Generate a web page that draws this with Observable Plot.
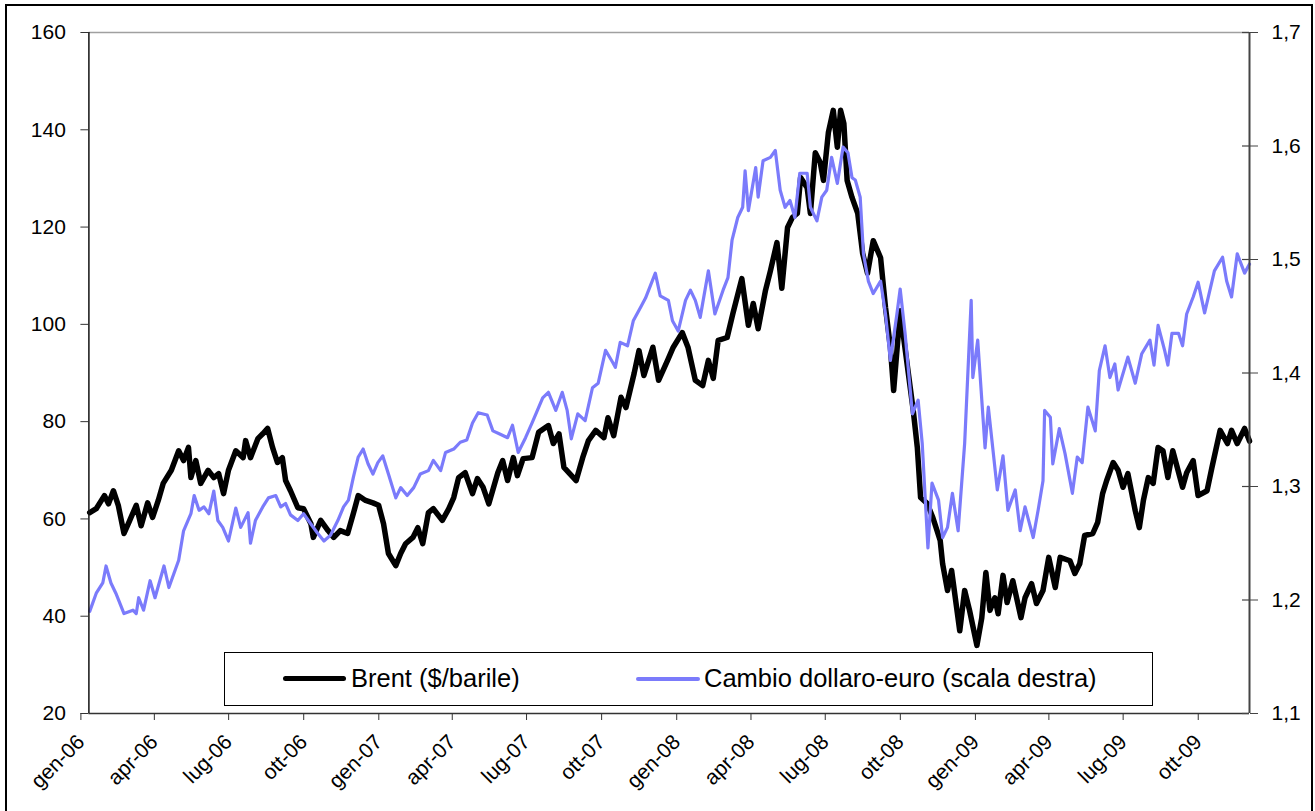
<!DOCTYPE html>
<html><head><meta charset="utf-8">
<script src="https://cdn.jsdelivr.net/npm/d3@7"></script>
<script src="https://cdn.jsdelivr.net/npm/@observablehq/plot@0.6"></script>
<style>
html,body{margin:0;padding:0;background:#fff;overflow:hidden}
#wrap{position:relative;width:1315px;height:811px;font-family:"Liberation Sans",Arial,sans-serif;overflow:hidden}
#chart{position:absolute;left:0;top:0}
#border{position:absolute;left:5px;top:4px;width:1308px;height:900px;border:2px solid #000;box-sizing:border-box;pointer-events:none}
#legend{position:absolute;left:224px;top:652px;width:929px;height:54px;border:1px solid #000;box-sizing:border-box;background:#fff}
.sw{position:absolute;border-radius:3px}
.lt{position:absolute;font-size:25.5px;line-height:1;color:#000;white-space:nowrap}
</style></head>
<body>
<div id="wrap">
  <div id="chart"></div>
  <div id="legend"></div>
  <div id="border"></div>
</div>
<script>
// ---- Data ----
const brentDates = ["2006-01-02","2006-01-10","2006-01-20","2006-01-25","2006-01-31","2006-02-06","2006-02-13","2006-02-19","2006-02-28","2006-03-06","2006-03-14","2006-03-20","2006-03-27","2006-04-02","2006-04-12","2006-04-21","2006-04-27","2006-05-03","2006-05-06","2006-05-12","2006-05-18","2006-05-27","2006-06-03","2006-06-09","2006-06-15","2006-06-21","2006-06-30","2006-07-09","2006-07-12","2006-07-18","2006-07-27","2006-08-02","2006-08-08","2006-08-14","2006-08-20","2006-08-26","2006-08-30","2006-09-05","2006-09-14","2006-09-21","2006-09-30","2006-10-03","2006-10-12","2006-10-21","2006-10-28","2006-11-05","2006-11-14","2006-11-21","2006-11-27","2006-12-06","2006-12-15","2006-12-22","2006-12-28","2007-01-03","2007-01-12","2007-01-18","2007-01-24","2007-02-02","2007-02-08","2007-02-14","2007-02-21","2007-02-27","2007-03-10","2007-03-18","2007-03-24","2007-03-30","2007-04-07","2007-04-16","2007-04-22","2007-04-29","2007-05-06","2007-05-17","2007-05-23","2007-05-29","2007-06-05","2007-06-10","2007-06-17","2007-06-28","2007-07-06","2007-07-18","2007-07-24","2007-07-31","2007-08-06","2007-08-21","2007-08-29","2007-09-05","2007-09-14","2007-09-24","2007-09-29","2007-10-06","2007-10-15","2007-10-21","2007-10-31","2007-11-06","2007-11-12","2007-11-23","2007-11-30","2007-12-11","2007-12-18","2007-12-29","2008-01-05","2008-01-14","2008-01-23","2008-01-30","2008-02-05","2008-02-11","2008-02-22","2008-02-29","2008-03-11","2008-03-19","2008-03-25","2008-03-31","2008-04-09","2008-04-15","2008-04-23","2008-04-29","2008-05-06","2008-05-12","2008-05-18","2008-05-22","2008-05-30","2008-06-03","2008-06-09","2008-06-15","2008-06-19","2008-06-25","2008-07-01","2008-07-06","2008-07-10","2008-07-14","2008-07-18","2008-07-24","2008-07-31","2008-08-06","2008-08-12","2008-08-19","2008-08-28","2008-09-03","2008-09-09","2008-09-13","2008-09-21","2008-09-27","2008-10-07","2008-10-12","2008-10-16","2008-10-24","2008-10-31","2008-11-09","2008-11-12","2008-11-18","2008-11-23","2008-12-03","2008-12-09","2008-12-15","2008-12-24","2008-12-30","2009-01-04","2009-01-09","2009-01-15","2009-01-19","2009-01-25","2009-01-30","2009-02-06","2009-02-16","2009-02-21","2009-03-01","2009-03-07","2009-03-15","2009-03-22","2009-03-30","2009-04-05","2009-04-17","2009-04-23","2009-04-29","2009-05-05","2009-05-15","2009-05-21","2009-05-27","2009-06-01","2009-06-09","2009-06-15","2009-06-21","2009-06-27","2009-07-06","2009-07-11","2009-07-16","2009-07-22","2009-07-28","2009-08-03","2009-08-09","2009-08-15","2009-08-21","2009-09-02","2009-09-07","2009-09-15","2009-09-21","2009-10-02","2009-10-08","2009-10-18","2009-10-27","2009-11-01","2009-11-08","2009-11-17","2009-11-23"];
const brentValues = [61.3,62.1,64.8,63.1,65.8,62.8,57.0,59.3,62.8,58.6,63.3,60.3,63.8,67.3,70.0,74.0,72.0,74.7,68.5,72.0,67.3,70.0,68.5,69.3,65.2,70.0,74.0,72.6,76.1,72.6,76.5,77.5,78.6,74.7,71.6,72.6,67.9,65.8,62.3,62.1,59.0,56.2,59.7,57.6,56.2,57.6,57.0,61.1,64.8,63.8,63.3,62.8,59.0,52.9,50.4,52.9,54.9,56.2,58.2,54.9,61.3,62.1,59.7,62.1,64.4,68.5,69.5,65.2,68.3,66.5,63.1,69.5,72.0,67.9,72.6,68.9,72.4,72.6,77.8,79.2,75.5,77.5,70.6,67.9,72.6,76.1,78.2,76.7,80.8,77.1,85.0,82.9,89.9,94.6,89.5,95.3,88.5,92.6,95.3,98.3,95.3,88.5,87.4,92.6,88.9,96.7,97.3,102.2,109.4,99.8,104.3,99.1,107.0,111.0,116.8,107.4,119.9,122.0,122.8,130.2,128.1,122.8,135.3,133.3,129.6,139.4,144.0,136.4,144.0,141.3,129.6,126.1,122.8,114.6,110.5,117.2,113.7,103.5,95.3,86.4,102.8,95.0,82.3,74.7,64.4,63.2,60.3,55.6,50.8,45.3,49.4,37.0,45.3,41.2,34.0,39.7,49.0,41.2,43.8,40.5,48.4,42.8,47.3,39.7,43.8,46.7,42.6,45.3,52.1,45.9,52.1,51.4,48.8,50.8,56.6,57.0,59.3,65.2,67.9,71.6,70.0,66.5,69.3,61.7,58.2,63.8,68.5,67.3,74.7,74.0,68.5,74.0,66.5,69.5,72.0,64.8,65.8,70.6,78.2,75.5,78.2,75.5,78.6,76.0];

const euroDates = ["2006-01-02","2006-01-10","2006-01-18","2006-01-22","2006-01-28","2006-02-03","2006-02-13","2006-02-24","2006-02-28","2006-03-03","2006-03-09","2006-03-17","2006-03-23","2006-04-03","2006-04-09","2006-04-21","2006-04-27","2006-05-06","2006-05-10","2006-05-16","2006-05-22","2006-05-28","2006-06-03","2006-06-08","2006-06-14","2006-06-21","2006-06-30","2006-07-06","2006-07-15","2006-07-18","2006-07-24","2006-08-02","2006-08-09","2006-08-18","2006-08-24","2006-08-30","2006-09-05","2006-09-14","2006-09-21","2006-09-30","2006-10-08","2006-10-16","2006-10-24","2006-11-02","2006-11-09","2006-11-15","2006-11-21","2006-11-27","2006-12-03","2006-12-09","2006-12-15","2006-12-21","2006-12-27","2007-01-03","2007-01-12","2007-01-18","2007-01-26","2007-02-03","2007-02-11","2007-02-21","2007-02-27","2007-03-08","2007-03-14","2007-03-24","2007-04-01","2007-04-09","2007-04-16","2007-04-23","2007-05-04","2007-05-11","2007-05-20","2007-05-29","2007-06-04","2007-06-11","2007-06-20","2007-06-28","2007-07-11","2007-07-18","2007-07-27","2007-08-04","2007-08-10","2007-08-15","2007-08-23","2007-09-01","2007-09-10","2007-09-17","2007-09-26","2007-10-05","2007-10-08","2007-10-14","2007-10-23","2007-10-30","2007-11-08","2007-11-14","2007-11-20","2007-11-26","2007-12-02","2007-12-12","2007-12-17","2007-12-24","2008-01-02","2008-01-08","2008-01-14","2008-01-20","2008-01-30","2008-02-07","2008-02-17","2008-02-23","2008-02-28","2008-03-06","2008-03-12","2008-03-15","2008-03-19","2008-03-28","2008-03-31","2008-04-06","2008-04-15","2008-04-21","2008-04-27","2008-05-03","2008-05-09","2008-05-15","2008-05-21","2008-05-30","2008-06-03","2008-06-11","2008-06-17","2008-06-23","2008-06-29","2008-07-06","2008-07-13","2008-07-19","2008-07-24","2008-07-28","2008-08-03","2008-08-07","2008-08-13","2008-08-19","2008-08-28","2008-09-03","2008-09-09","2008-09-17","2008-09-21","2008-09-27","2008-10-06","2008-10-13","2008-10-18","2008-10-25","2008-10-30","2008-11-07","2008-11-12","2008-11-18","2008-11-24","2008-12-01","2008-12-09","2008-12-17","2008-12-19","2008-12-25","2009-01-03","2009-01-07","2009-01-18","2009-01-25","2009-01-31","2009-02-09","2009-02-15","2009-02-21","2009-03-03","2009-03-09","2009-03-15","2009-03-17","2009-03-24","2009-03-27","2009-04-04","2009-04-11","2009-04-20","2009-04-26","2009-05-02","2009-05-09","2009-05-18","2009-05-23","2009-05-30","2009-06-05","2009-06-11","2009-06-15","2009-06-27","2009-07-06","2009-07-14","2009-07-24","2009-07-29","2009-08-03","2009-08-11","2009-08-15","2009-08-20","2009-08-28","2009-09-02","2009-09-07","2009-09-15","2009-09-21","2009-09-29","2009-10-11","2009-10-21","2009-10-26","2009-11-01","2009-11-08","2009-11-17","2009-11-23"];
const euroValues = [1.190,1.206,1.215,1.230,1.215,1.206,1.188,1.191,1.188,1.202,1.191,1.217,1.202,1.230,1.211,1.235,1.261,1.276,1.292,1.279,1.282,1.276,1.296,1.270,1.264,1.252,1.281,1.264,1.277,1.250,1.270,1.282,1.290,1.292,1.282,1.285,1.275,1.270,1.276,1.267,1.259,1.252,1.257,1.270,1.282,1.288,1.308,1.326,1.333,1.320,1.311,1.321,1.327,1.311,1.290,1.299,1.292,1.299,1.311,1.314,1.323,1.314,1.330,1.333,1.339,1.341,1.356,1.365,1.363,1.349,1.346,1.343,1.354,1.330,1.343,1.356,1.378,1.383,1.367,1.383,1.367,1.342,1.364,1.358,1.387,1.391,1.420,1.409,1.405,1.427,1.424,1.446,1.458,1.466,1.477,1.488,1.468,1.464,1.446,1.437,1.464,1.473,1.464,1.449,1.490,1.452,1.473,1.484,1.517,1.537,1.546,1.578,1.543,1.581,1.555,1.587,1.590,1.596,1.561,1.546,1.552,1.537,1.576,1.576,1.546,1.534,1.555,1.561,1.590,1.567,1.599,1.594,1.572,1.570,1.555,1.505,1.481,1.470,1.481,1.452,1.411,1.452,1.474,1.435,1.364,1.376,1.338,1.246,1.303,1.288,1.255,1.264,1.294,1.261,1.338,1.464,1.396,1.429,1.334,1.370,1.297,1.327,1.279,1.297,1.261,1.282,1.255,1.279,1.305,1.367,1.361,1.320,1.351,1.329,1.294,1.326,1.321,1.370,1.349,1.402,1.424,1.396,1.408,1.385,1.414,1.391,1.417,1.429,1.407,1.442,1.420,1.407,1.435,1.435,1.424,1.452,1.467,1.480,1.453,1.490,1.502,1.481,1.467,1.505,1.488,1.496];

const brentTicks = [20, 40, 60, 80, 100, 120, 140, 160];
const euroTicks = [1.1, 1.2, 1.3, 1.4, 1.5, 1.6, 1.7];
const xTickDates = ["2006-01-01","2006-04-01","2006-07-01","2006-10-01","2007-01-01","2007-04-01","2007-07-01","2007-10-01","2008-01-01","2008-04-01","2008-07-01","2008-10-01","2009-01-01","2009-04-01","2009-07-01","2009-10-01"];
const xTickLabels = ["gen-06","apr-06","lug-06","ott-06","gen-07","apr-07","lug-07","ott-07","gen-08","apr-08","lug-08","ott-08","gen-09","apr-09","lug-09","ott-09"];
const xDomain = ["2006-01-01", "2009-11-23"];
const seriesNames = ["Brent ($/barile)", "Cambio dollaro-euro (scala destra)"];
const seriesColors = ["#000000", "#7b7bfb"];

// ---- Build ----
const parse = d3.utcParse("%Y-%m-%d");
const brent = brentDates.map((d, i) => ({date: parse(d), value: brentValues[i]}));
const euro = euroDates.map((d, i) => ({date: parse(d), value: euroValues[i]}));
const yMin = brentTicks[0], yMax = brentTicks[brentTicks.length - 1];
const eMin = euroTicks[0], eMax = euroTicks[euroTicks.length - 1];
const toLeft = e => yMin + (e - eMin) / (eMax - eMin) * (yMax - yMin);
const toEuro = v => eMin + (v - yMin) / (yMax - yMin) * (eMax - eMin);
const xd = xDomain.map(parse);
const tickDates = xTickDates.map(parse);
const labelOf = new Map(tickDates.map((d, i) => [+d, xTickLabels[i]]));

const chart = Plot.plot({
  width: 1315,
  height: 811,
  marginLeft: 88.4,
  marginRight: 66,
  marginTop: 32,
  marginBottom: 98,
  style: {fontFamily: '"Liberation Sans", Arial, sans-serif', fontSize: "21px", background: "transparent", color: "#000"},
  x: {type: "utc", domain: xd, axis: null},
  y: {domain: [yMin, yMax], axis: null},
  marks: [
    Plot.ruleY([yMax], {stroke: "#a0a0a0", strokeWidth: 1.5}),
    Plot.line(brent, {x: "date", y: "value", stroke: seriesColors[0], strokeWidth: 5.5, strokeLinejoin: "round", strokeLinecap: "round"}),
    Plot.line(euro, {x: "date", y: d => toLeft(d.value), stroke: seriesColors[1], strokeWidth: 3.2, strokeLinejoin: "round"}),
    Plot.ruleX([xd[0]], {stroke: "#111", strokeWidth: 1.5}),
    Plot.ruleX([xd[1]], {stroke: "#444", strokeWidth: 2}),
    Plot.ruleY([yMin], {stroke: "#333", strokeWidth: 1.5}),
    Plot.ruleY(euroTicks.map(toLeft), {x1: () => xd[1], x2: () => xd[1], insetLeft: -7, stroke: "#444", strokeWidth: 1.2}),
    Plot.axisY(brentTicks, {anchor: "left", label: null, tickSize: 8, tickPadding: 15, fontSize: 21, stroke: "#333"}),
    Plot.axisY(euroTicks.map(toLeft), {anchor: "right", label: null, tickSize: 8, tickPadding: 14, fontSize: 21, stroke: "#444",
      tickFormat: v => toEuro(v).toFixed(1).replace(".", ",")}),
    Plot.axisX(tickDates, {anchor: "bottom", label: null, tickSize: 7, tickPadding: 18, tickRotate: -45, dx: -8, fontSize: 21, stroke: "#333",
      tickFormat: d => labelOf.get(+d)})
  ]
});
document.getElementById("chart").appendChild(chart);

// ---- Legend (HTML) ----
const legend = document.getElementById("legend");
const items = [
  {sw: {left: 58, top: 23, width: 63, height: 5}, text: {left: 126, top: 13.4}},
  {sw: {left: 411, top: 23.5, width: 64, height: 4}, text: {left: 479, top: 13.4}}
];
items.forEach((it, i) => {
  const s = document.createElement("div");
  s.className = "sw";
  Object.assign(s.style, {left: it.sw.left + "px", top: it.sw.top + "px", width: it.sw.width + "px", height: it.sw.height + "px", background: seriesColors[i]});
  legend.appendChild(s);
  const t = document.createElement("div");
  t.className = "lt";
  t.textContent = seriesNames[i];
  Object.assign(t.style, {left: it.text.left + "px", top: it.text.top + "px"});
  legend.appendChild(t);
});
</script>
</body></html>
